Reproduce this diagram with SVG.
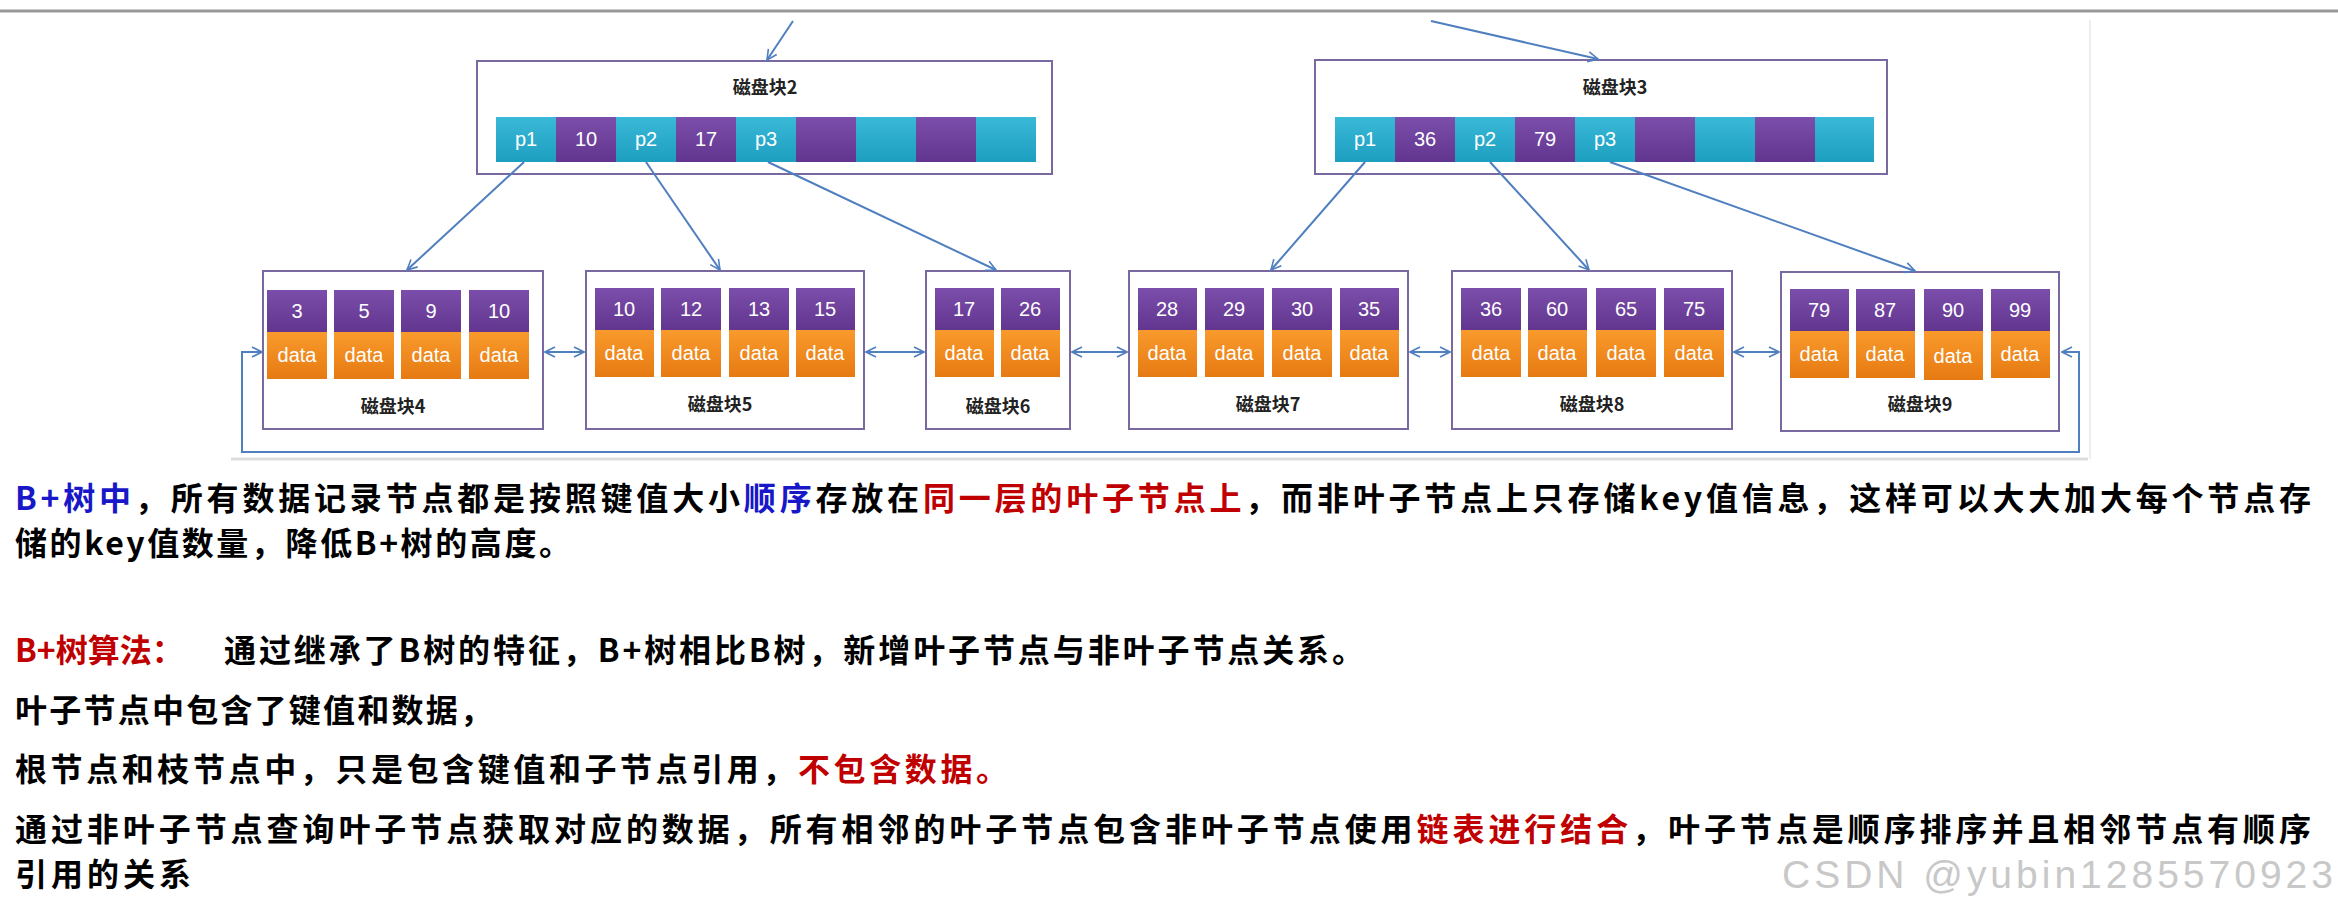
<svg xmlns="http://www.w3.org/2000/svg" width="2338" height="919" viewBox="0 0 2338 919">
<defs>
<linearGradient id="gT" x1="0" y1="0" x2="0" y2="1"><stop offset="0" stop-color="#3ab8d8"/><stop offset="1" stop-color="#1d9fbf"/></linearGradient>
<linearGradient id="gP" x1="0" y1="0" x2="0" y2="1"><stop offset="0" stop-color="#7a4eaa"/><stop offset="1" stop-color="#62358f"/></linearGradient>
<linearGradient id="gO" x1="0" y1="0" x2="0" y2="1"><stop offset="0" stop-color="#f99a2c"/><stop offset="1" stop-color="#e67a12"/></linearGradient>
<marker id="ah" viewBox="0 0 12 12" refX="11" refY="6" markerWidth="12" markerHeight="12" markerUnits="userSpaceOnUse" orient="auto-start-reverse"><path d="M1,1 L11,6 L1,11" fill="none" stroke="#4f7fbf" stroke-width="1.6"/></marker>
<style>
.box{fill:#fff;stroke:#7a68a0;stroke-width:2}
.t{fill:url(#gT)}.p{fill:url(#gP)}.o{fill:url(#gO)}
.ct{font-family:"Liberation Sans",sans-serif;font-size:20px;fill:#fff;text-anchor:middle}
.lb{font-family:"Noto Sans CJK SC",sans-serif;font-size:18px;font-weight:bold;fill:#222;text-anchor:middle}
.cn line,.cn path{stroke:#4f7fbf;stroke-width:2;fill:none}
.tx{font-family:"Noto Sans CJK SC",sans-serif;font-size:32px;font-weight:bold;fill:#000}
.r{fill:#c00000}.b{fill:#1818c8}
</style>
</defs>
<rect width="2338" height="919" fill="#fff"/>
<line x1="0" y1="11" x2="2338" y2="11" stroke="#999" stroke-width="3"/>
<line x1="231" y1="459" x2="2088" y2="459" stroke="#ddd" stroke-width="3"/>
<line x1="2090" y1="20" x2="2090" y2="459" stroke="#eee" stroke-width="2"/>

<g id="block2">
<rect class="box" x="477" y="61" width="575" height="113"/>
<text class="lb" x="765" y="94">磁盘块2</text>
<rect class="t" x="496" y="117" width="60" height="45"/><rect class="p" x="556" y="117" width="60" height="45"/><rect class="t" x="616" y="117" width="60" height="45"/><rect class="p" x="676" y="117" width="60" height="45"/><rect class="t" x="736" y="117" width="60" height="45"/><rect class="p" x="796" y="117" width="60" height="45"/><rect class="t" x="856" y="117" width="60" height="45"/><rect class="p" x="916" y="117" width="60" height="45"/><rect class="t" x="976" y="117" width="60" height="45"/>
<text class="ct" x="526" y="146">p1</text><text class="ct" x="586" y="146">10</text><text class="ct" x="646" y="146">p2</text><text class="ct" x="706" y="146">17</text><text class="ct" x="766" y="146">p3</text>
</g>
<g id="block3">
<rect class="box" x="1315" y="60" width="572" height="114"/>
<text class="lb" x="1615" y="94">磁盘块3</text>
<rect class="t" x="1335" y="117" width="60" height="45"/><rect class="p" x="1395" y="117" width="60" height="45"/><rect class="t" x="1455" y="117" width="60" height="45"/><rect class="p" x="1515" y="117" width="60" height="45"/><rect class="t" x="1575" y="117" width="60" height="45"/><rect class="p" x="1635" y="117" width="60" height="45"/><rect class="t" x="1695" y="117" width="60" height="45"/><rect class="p" x="1755" y="117" width="60" height="45"/><rect class="t" x="1815" y="117" width="59" height="45"/>
<text class="ct" x="1365" y="146">p1</text><text class="ct" x="1425" y="146">36</text><text class="ct" x="1485" y="146">p2</text><text class="ct" x="1545" y="146">79</text><text class="ct" x="1605" y="146">p3</text>
</g>

<g id="block4">
<rect class="box" x="263" y="271" width="280" height="158"/>
<rect class="p" x="267" y="290" width="60" height="42"/><rect class="o" x="267" y="332" width="60" height="47"/>
<rect class="p" x="334" y="290" width="60" height="42"/><rect class="o" x="334" y="332" width="60" height="47"/>
<rect class="p" x="401" y="290" width="60" height="42"/><rect class="o" x="401" y="332" width="60" height="47"/>
<rect class="p" x="469" y="290" width="60" height="42"/><rect class="o" x="469" y="332" width="60" height="47"/>
<text class="ct" x="297" y="318">3</text><text class="ct" x="364" y="318">5</text><text class="ct" x="431" y="318">9</text><text class="ct" x="499" y="318">10</text>
<text class="ct" x="297" y="362">data</text><text class="ct" x="364" y="362">data</text><text class="ct" x="431" y="362">data</text><text class="ct" x="499" y="362">data</text>
<text class="lb" x="393" y="413">磁盘块4</text>
</g>
<g id="block5">
<rect class="box" x="586" y="271" width="278" height="158"/>
<rect class="p" x="595" y="288" width="59" height="42"/><rect class="o" x="595" y="330" width="59" height="47"/>
<rect class="p" x="661" y="288" width="60" height="42"/><rect class="o" x="661" y="330" width="60" height="47"/>
<rect class="p" x="729" y="288" width="60" height="42"/><rect class="o" x="729" y="330" width="60" height="47"/>
<rect class="p" x="796" y="288" width="59" height="42"/><rect class="o" x="796" y="330" width="59" height="47"/>
<text class="ct" x="624" y="316">10</text><text class="ct" x="691" y="316">12</text><text class="ct" x="759" y="316">13</text><text class="ct" x="825" y="316">15</text>
<text class="ct" x="624" y="360">data</text><text class="ct" x="691" y="360">data</text><text class="ct" x="759" y="360">data</text><text class="ct" x="825" y="360">data</text>
<text class="lb" x="720" y="411">磁盘块5</text>
</g>
<g id="block6">
<rect class="box" x="926" y="271" width="144" height="158"/>
<rect class="p" x="935" y="288" width="59" height="42"/><rect class="o" x="935" y="330" width="59" height="47"/>
<rect class="p" x="1001" y="288" width="59" height="42"/><rect class="o" x="1001" y="330" width="59" height="47"/>
<text class="ct" x="964" y="316">17</text><text class="ct" x="1030" y="316">26</text>
<text class="ct" x="964" y="360">data</text><text class="ct" x="1030" y="360">data</text>
<text class="lb" x="998" y="413">磁盘块6</text>
</g>
<g id="block7">
<rect class="box" x="1129" y="271" width="279" height="158"/>
<rect class="p" x="1138" y="288" width="59" height="42"/><rect class="o" x="1138" y="330" width="59" height="47"/>
<rect class="p" x="1205" y="288" width="59" height="42"/><rect class="o" x="1205" y="330" width="59" height="47"/>
<rect class="p" x="1272" y="288" width="60" height="42"/><rect class="o" x="1272" y="330" width="60" height="47"/>
<rect class="p" x="1340" y="288" width="59" height="42"/><rect class="o" x="1340" y="330" width="59" height="47"/>
<text class="ct" x="1167" y="316">28</text><text class="ct" x="1234" y="316">29</text><text class="ct" x="1302" y="316">30</text><text class="ct" x="1369" y="316">35</text>
<text class="ct" x="1167" y="360">data</text><text class="ct" x="1234" y="360">data</text><text class="ct" x="1302" y="360">data</text><text class="ct" x="1369" y="360">data</text>
<text class="lb" x="1268" y="411">磁盘块7</text>
</g>
<g id="block8">
<rect class="box" x="1452" y="271" width="280" height="158"/>
<rect class="p" x="1461" y="288" width="60" height="42"/><rect class="o" x="1461" y="330" width="60" height="47"/>
<rect class="p" x="1528" y="288" width="59" height="42"/><rect class="o" x="1528" y="330" width="59" height="47"/>
<rect class="p" x="1596" y="288" width="60" height="42"/><rect class="o" x="1596" y="330" width="60" height="47"/>
<rect class="p" x="1664" y="288" width="60" height="42"/><rect class="o" x="1664" y="330" width="60" height="47"/>
<text class="ct" x="1491" y="316">36</text><text class="ct" x="1557" y="316">60</text><text class="ct" x="1626" y="316">65</text><text class="ct" x="1694" y="316">75</text>
<text class="ct" x="1491" y="360">data</text><text class="ct" x="1557" y="360">data</text><text class="ct" x="1626" y="360">data</text><text class="ct" x="1694" y="360">data</text>
<text class="lb" x="1592" y="411">磁盘块8</text>
</g>
<g id="block9">
<rect class="box" x="1781" y="272" width="278" height="159"/>
<rect class="p" x="1790" y="289" width="59" height="42"/><rect class="o" x="1790" y="331" width="59" height="47"/>
<rect class="p" x="1856" y="289" width="59" height="42"/><rect class="o" x="1856" y="331" width="59" height="47"/>
<rect class="p" x="1924" y="289" width="59" height="42"/><rect class="o" x="1924" y="331" width="59" height="49"/>
<rect class="p" x="1991" y="289" width="59" height="42"/><rect class="o" x="1991" y="331" width="59" height="47"/>
<text class="ct" x="1819" y="317">79</text><text class="ct" x="1885" y="317">87</text><text class="ct" x="1953" y="317">90</text><text class="ct" x="2020" y="317">99</text>
<text class="ct" x="1819" y="361">data</text><text class="ct" x="1885" y="361">data</text><text class="ct" x="1953" y="363">data</text><text class="ct" x="2020" y="361">data</text>
<text class="lb" x="1920" y="411">磁盘块9</text>
</g>

<g id="connectors" class="cn">
<line x1="793" y1="21" x2="767" y2="60" marker-end="url(#ah)"/>
<line x1="1431" y1="21" x2="1598" y2="59" marker-end="url(#ah)"/>
<line x1="524" y1="162" x2="407" y2="270" marker-end="url(#ah)"/>
<line x1="646" y1="162" x2="720" y2="270" marker-end="url(#ah)"/>
<line x1="768" y1="162" x2="996" y2="270" marker-end="url(#ah)"/>
<line x1="1365" y1="162" x2="1271" y2="270" marker-end="url(#ah)"/>
<line x1="1490" y1="162" x2="1589" y2="270" marker-end="url(#ah)"/>
<line x1="1610" y1="162" x2="1915" y2="271" marker-end="url(#ah)"/>
<line x1="545" y1="352" x2="584" y2="352" marker-start="url(#ah)" marker-end="url(#ah)"/>
<line x1="866" y1="352" x2="924" y2="352" marker-start="url(#ah)" marker-end="url(#ah)"/>
<line x1="1072" y1="352" x2="1127" y2="352" marker-start="url(#ah)" marker-end="url(#ah)"/>
<line x1="1410" y1="352" x2="1450" y2="352" marker-start="url(#ah)" marker-end="url(#ah)"/>
<line x1="1734" y1="352" x2="1779" y2="352" marker-start="url(#ah)" marker-end="url(#ah)"/>
<path d="M2062,352 H2079 V452 H242 V352 H262" marker-start="url(#ah)" marker-end="url(#ah)"/>
</g>

<text class="tx" x="15" y="510" textLength="2296" lengthAdjust="spacing"><tspan class="b">B+树中</tspan>，所有数据记录节点都是按照键值大小<tspan class="b">顺序</tspan>存放在<tspan class="r">同一层的叶子节点上</tspan>，而非叶子节点上只存储key值信息，这样可以大大加大每个节点存</text>
<text class="tx" x="15" y="555" textLength="556" lengthAdjust="spacing">储的key值数量，降低B+树的高度。</text>
<text class="tx r" x="15" y="662">B+树算法：</text>
<text class="tx" x="224" y="662" textLength="1140" lengthAdjust="spacing">通过继承了B树的特征，B+树相比B树，新增叶子节点与非叶子节点关系。</text>
<text class="tx" x="15" y="722" textLength="477" lengthAdjust="spacing">叶子节点中包含了键值和数据，</text>
<text class="tx" x="15" y="781" textLength="993" lengthAdjust="spacing">根节点和枝节点中，只是包含键值和子节点引用，<tspan class="r">不包含数据。</tspan></text>
<text class="tx" x="15" y="841" textLength="2296" lengthAdjust="spacing">通过非叶子节点查询叶子节点获取对应的数据，所有相邻的叶子节点包含非叶子节点使用<tspan class="r">链表进行结合</tspan>，叶子节点是顺序排序并且相邻节点有顺序</text>
<text class="tx" x="15" y="886" textLength="176" lengthAdjust="spacing">引用的关系</text>
<text x="1782" y="888" font-family="Liberation Sans,sans-serif" font-size="39" fill="#c8c8c8" textLength="551">CSDN @yubin1285570923</text>
</svg>
